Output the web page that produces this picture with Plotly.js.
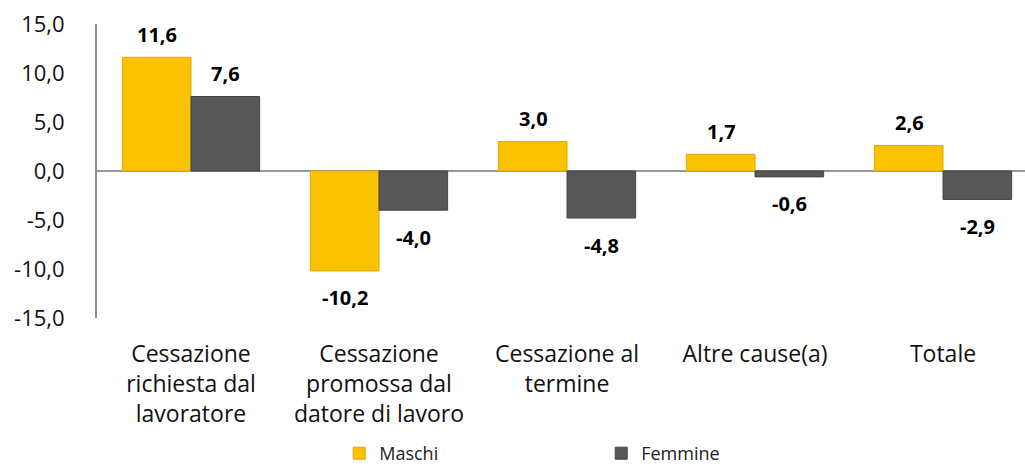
<!DOCTYPE html>
<html><head><meta charset="utf-8">
<script src="https://cdn.plot.ly/plotly-3.0.1.min.js"></script>
<style>html,body{margin:0;padding:0;background:#fff}#chart{width:1025px;height:472px}</style>
</head><body><div id="chart"></div>
<script>
const categories = ["Cessazione<br>richiesta dal<br>lavoratore", "Cessazione<br>promossa dal<br>datore di lavoro", "Cessazione al<br>termine", "Altre cause(a)", "Totale"];
const maschi = [11.6, -10.2, 3.0, 1.7, 2.6];
const femmine = [7.6, -4.0, -4.8, -0.6, -2.9];
const yTicks = [-15, -10, -5, 0, 5, 10, 15];

const fmt = v => v.toFixed(1).replace('.', ',');
const FONT = 'Open Sans, sans-serif';

const traces = [
  {type:'bar', name:'Maschi', x:categories, y:maschi,
   marker:{color:'#FBC200', line:{color:'#E0A800', width:1}}},
  {type:'bar', name:'Femmine', x:categories, y:femmine,
   marker:{color:'#575757', line:{color:'#444444', width:1}}}
];

const annotations = [];
[[maschi,-34],[femmine,34]].forEach(([arr,xs]) => {
  arr.forEach((v,i) => {
    annotations.push({x:categories[i], y:v, xref:'x', yref:'y', text:'<b>'+fmt(v)+'</b>',
      showarrow:false, xshift:xs, yshift: v>=0 ? 23 : -27, yanchor:'middle',
      font:{family:FONT, size:20, color:'#000'}});
  });
});

const layout = {
  width:1025, height:472,
  margin:{l:97, r:0, t:24, b:154, autoexpand:false},
  paper_bgcolor:'#fff', plot_bgcolor:'#fff',
  barmode:'group', bargap:0.27, bargroupgap:0,
  font:{family:FONT, color:'#000'},
  xaxis:{type:'category', range:[-0.5, 4.436], showgrid:false, showline:false, ticks:'',
    automargin:false, tickfont:{family:FONT, size:23, color:'#111'}, ticklabelstandoff:20},
  yaxis:{range:[-15,15], tickvals:yTicks, ticktext:yTicks.map(fmt), showgrid:false,
    showline:true, linecolor:'#8c8c8c', linewidth:2, ticks:'', automargin:false,
    zeroline:true, zerolinecolor:'#9a9a9a', zerolinewidth:2,
    tickfont:{family:FONT, size:22, color:'#111'}, ticklabelstandoff:26},
  showlegend:true,
  legend:{orientation:'h', x:0.261, xanchor:'left', yref:'container', y:0, yanchor:'bottom',
    entrywidth:217, entrywidthmode:'pixels', font:{family:FONT, size:18, color:'#222'},
    itemwidth:30, bgcolor:'rgba(0,0,0,0)'},
  annotations:annotations
};

Plotly.newPlot('chart', traces, layout, {displayModeBar:false, staticPlot:true});
</script></body></html>
